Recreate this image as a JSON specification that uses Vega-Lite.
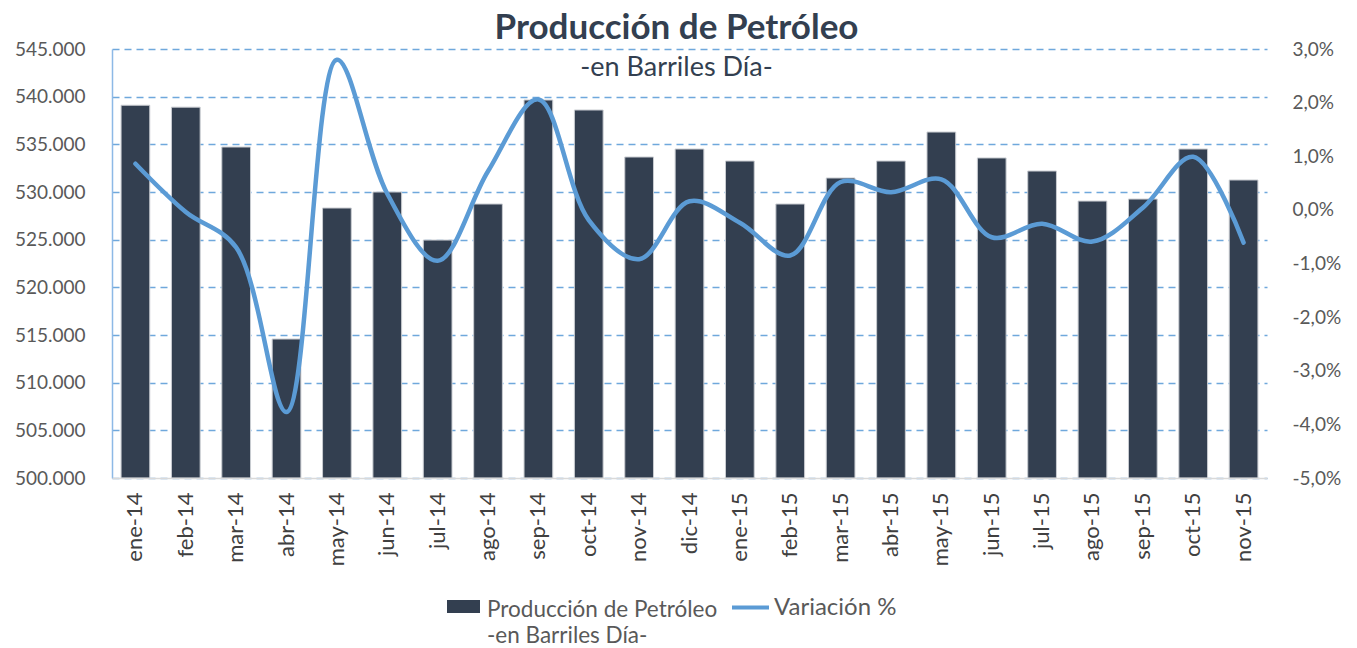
{
  "$schema": "https://vega.github.io/schema/vega-lite/v6.json",
  "width": 1155,
  "height": 429,
  "autosize": {"type": "none"},
  "padding": {"left": 112, "top": 49, "right": 90, "bottom": 170},
  "background": "white",
  "title": {
    "text": "Producción de Petróleo",
    "subtitle": "-en Barriles Día-",
    "anchor": "middle",
    "dx": -13,
    "offset": -41,
    "font": "Lato",
    "fontSize": 35,
    "fontWeight": "bold",
    "color": "#333F50",
    "subtitleFont": "Lato",
    "subtitleFontSize": 27,
    "subtitleColor": "#333F50",
    "subtitlePadding": 9
  },
  "data": {
    "values": [
      {"mes": "ene-14", "prod": 539100, "var": 0.0086},
      {"mes": "feb-14", "prod": 538900, "var": -0.0004},
      {"mes": "mar-14", "prod": 534720, "var": -0.0070},
      {"mes": "abr-14", "prod": 514580, "var": -0.0377},
      {"mes": "may-14", "prod": 528320, "var": 0.0280},
      {"mes": "jun-14", "prod": 530000, "var": 0.0030},
      {"mes": "jul-14", "prod": 524960, "var": -0.0095},
      {"mes": "ago-14", "prod": 528740, "var": 0.0072},
      {"mes": "sep-14", "prod": 539650, "var": 0.0206},
      {"mes": "oct-14", "prod": 538600, "var": -0.0019},
      {"mes": "nov-14", "prod": 533670, "var": -0.0092},
      {"mes": "dic-14", "prod": 534510, "var": 0.0016},
      {"mes": "ene-15", "prod": 533250, "var": -0.0024},
      {"mes": "feb-15", "prod": 528740, "var": -0.0085},
      {"mes": "mar-15", "prod": 531470, "var": 0.0052},
      {"mes": "abr-15", "prod": 533250, "var": 0.0033},
      {"mes": "may-15", "prod": 536290, "var": 0.0057},
      {"mes": "jun-15", "prod": 533570, "var": -0.0051},
      {"mes": "jul-15", "prod": 532200, "var": -0.0026},
      {"mes": "ago-15", "prod": 529050, "var": -0.0059},
      {"mes": "sep-15", "prod": 529260, "var": 0.0004},
      {"mes": "oct-15", "prod": 534510, "var": 0.0099},
      {"mes": "nov-15", "prod": 531260, "var": -0.0061}
    ]
  },
  "encoding": {
    "x": {
      "field": "mes",
      "type": "nominal",
      "sort": null,
      "scale": {"paddingInner": 0.43, "paddingOuter": 0.18},
      "axis": {
        "title": null,
        "labelAngle": -90,
        "labelAlign": "right",
        "labelBaseline": "middle",
        "labelPadding": 14,
        "labelFont": "Lato",
        "labelFontSize": 22,
        "labelColor": "#404040",
        "ticks": false,
        "domainColor": "#D9D9D9",
        "domainWidth": 1.5,
        "grid": false,
        "zindex": 1
      }
    }
  },
  "layer": [
    {
      "mark": {"type": "bar", "stroke": "#C9CCD1", "strokeWidth": 1},
      "encoding": {
        "y": {
          "field": "prod",
          "type": "quantitative",
          "scale": {"domain": [500000, 545000], "zero": false, "nice": false},
          "axis": {
            "title": null,
            "values": [500000, 505000, 510000, 515000, 520000, 525000, 530000, 535000, 540000, 545000],
            "format": ",.0f",
            "labelFont": "Lato",
            "labelFontSize": 19,
            "labelColor": "#595959",
            "labelPadding": 27,
            "ticks": false,
            "domainColor": "#8DB9E6",
            "domainWidth": 1.5,
            "grid": true,
            "gridColor": "#6FA8DC",
            "gridDash": [7, 5],
            "gridWidth": 1.3
          }
        },
        "y2": {"datum": 500000},
        "fill": {
          "datum": "Producción de Petróleo",
          "scale": {"range": ["#333F50"]},
          "legend": {
            "orient": "none",
            "legendX": 335,
            "legendY": 544,
            "title": null,
            "padding": 0,
            "symbolType": "M-1,-0.58H1V0.21H-1Z",
            "symbolSize": 1089,
            "symbolStrokeWidth": 0,
            "labelOffset": 7,
            "labelFont": "Lato",
            "labelFontSize": 22.5,
            "labelColor": "#595959",
            "labelLimit": 400,
            "labelExpr": "datum.label == 'Producción de Petróleo' ? ['Producción de Petróleo', '-en Barriles Día-'] : datum.label"
          }
        }
      }
    },
    {
      "mark": {"type": "line", "interpolate": "catmull-rom", "strokeWidth": 4.5, "strokeCap": "round"},
      "encoding": {
        "y": {
          "field": "var",
          "type": "quantitative",
          "scale": {"domain": [-0.05, 0.03], "zero": false, "nice": false},
          "axis": {
            "title": null,
            "orient": "right",
            "values": [-0.05, -0.04, -0.03, -0.02, -0.01, 0, 0.01, 0.02, 0.03],
            "format": ".1%",
            "labelFont": "Lato",
            "labelFontSize": 19,
            "labelColor": "#595959",
            "labelPadding": 25,
            "ticks": false,
            "domain": false,
            "grid": false
          }
        },
        "stroke": {
          "datum": "Variación %",
          "scale": {"range": ["#5B9BD5"]},
          "legend": {
            "orient": "none",
            "legendX": 618,
            "legendY": 538,
            "title": null,
            "padding": 0,
            "symbolType": "stroke",
            "symbolSize": 1369,
            "symbolStrokeWidth": 4,
            "labelOffset": 3,
            "labelFont": "Lato",
            "labelFontSize": 24,
            "labelColor": "#595959"
          }
        }
      }
    }
  ],
  "resolve": {"scale": {"y": "independent"}},
  "config": {
    "view": {"stroke": null},
    "locale": {
      "number": {"decimal": ",", "thousands": ".", "grouping": [3], "currency": ["$", ""], "minus": "-"}
    },
    "style": {"guide-label": {"lineHeight": 26}}
  }
}
